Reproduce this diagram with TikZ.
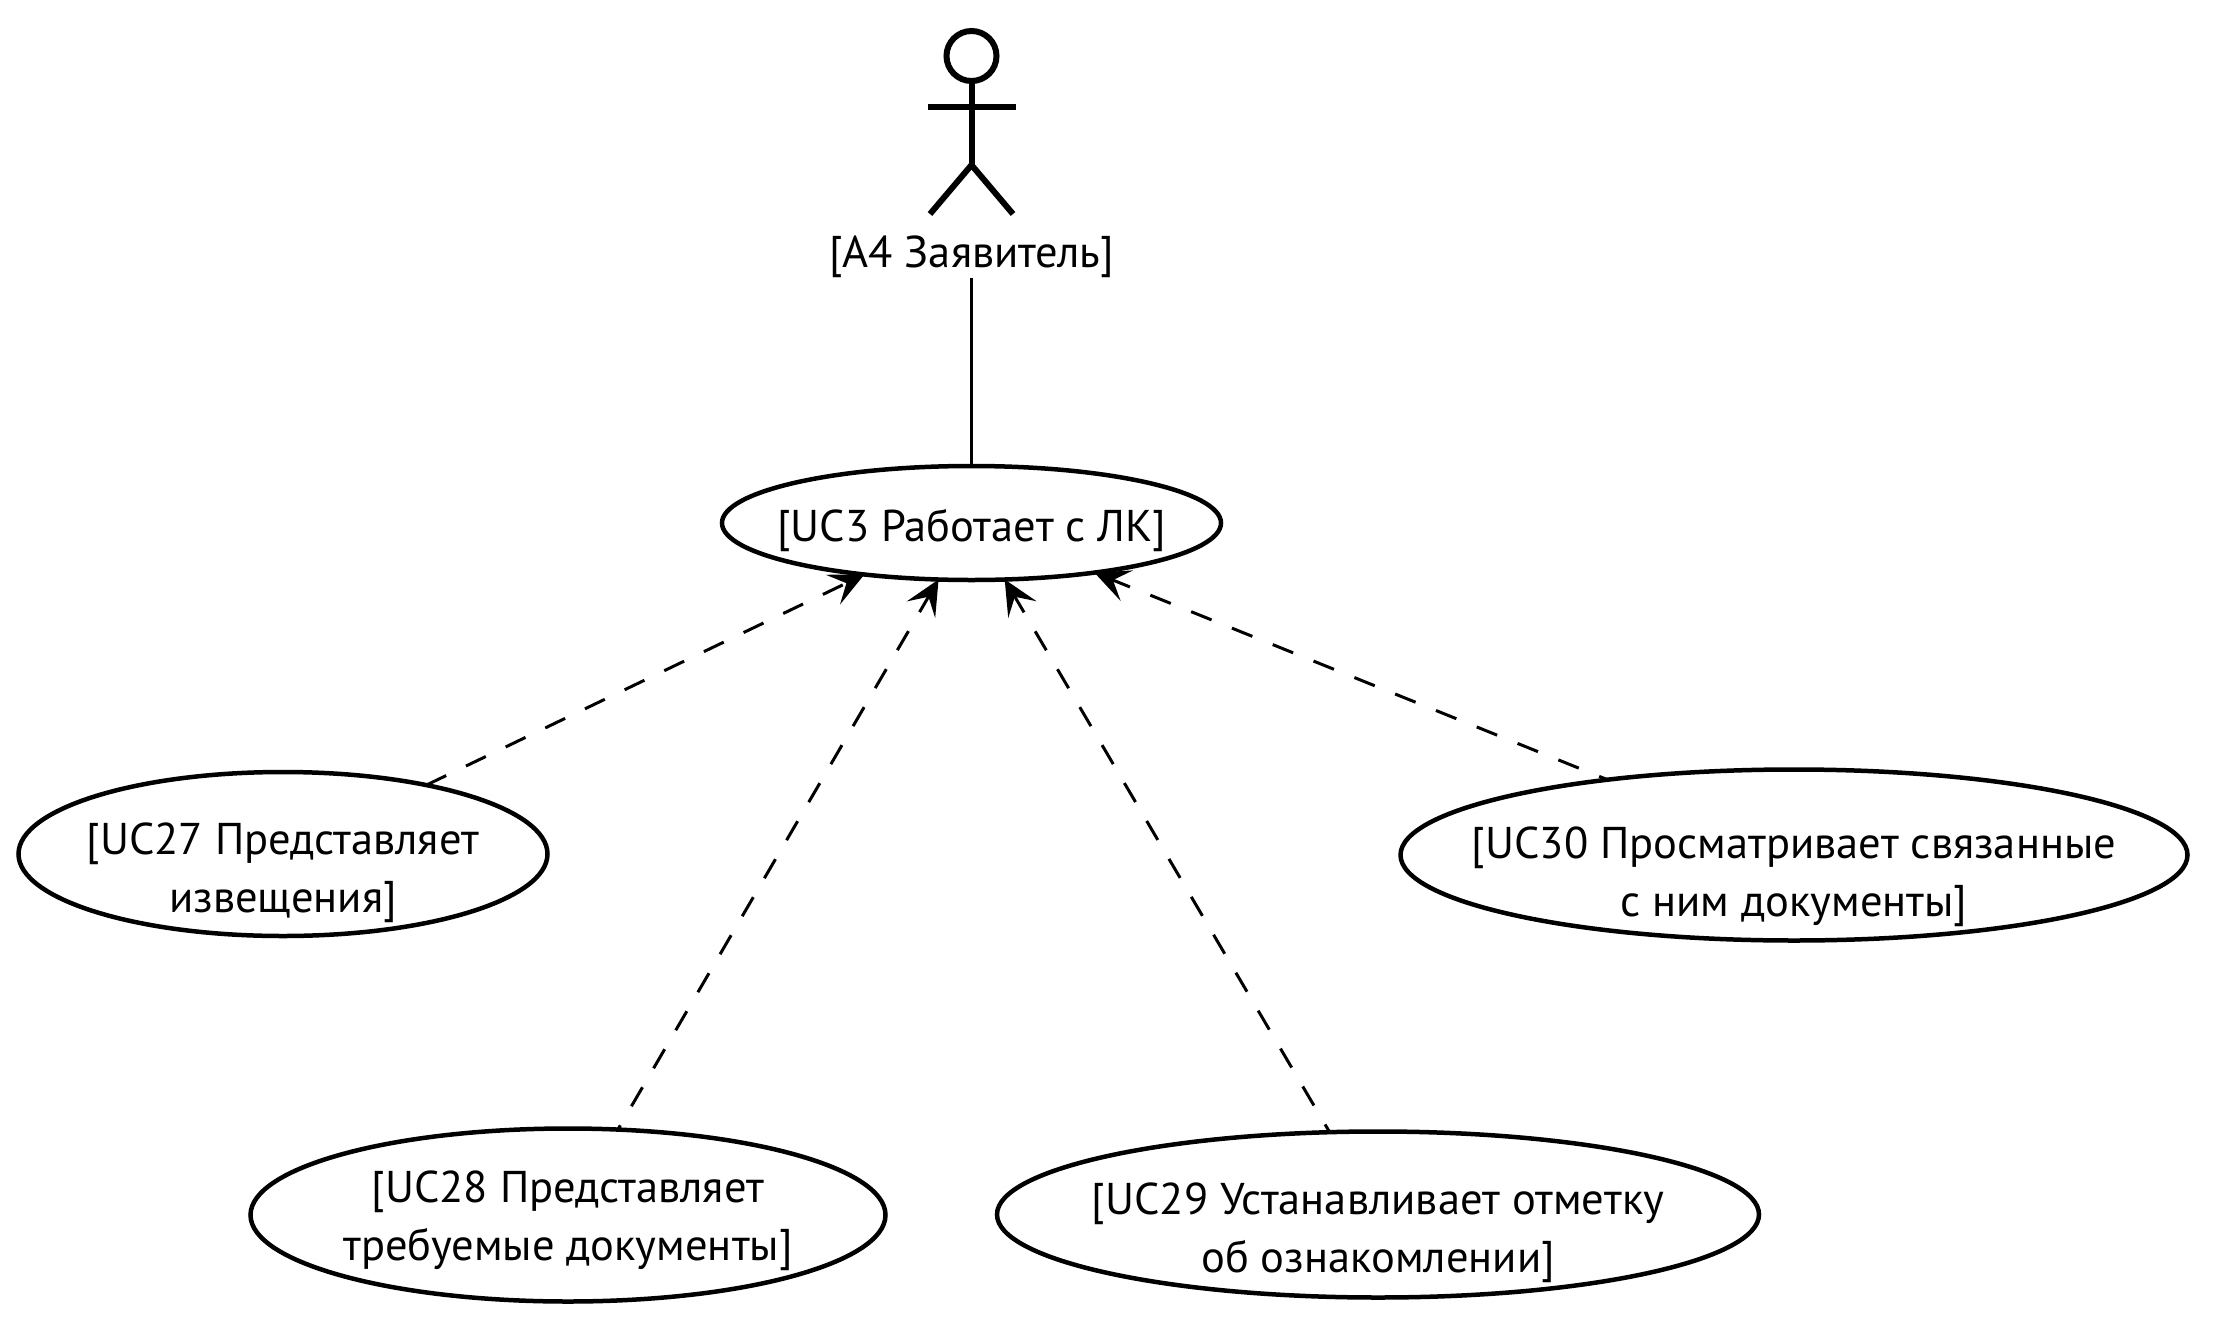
\documentclass[tikz,border=0pt]{standalone}
\usepackage{fontspec}
\setmainfont{PT Sans}
\usetikzlibrary{arrows.meta,shapes.geometric}
\newcommand{\lowertext}[1]{\rule{0pt}{#1}}
\tikzset{
  usecase/.style={ellipse,draw=black,line width=4.5pt,inner xsep=-70pt,inner ysep=-20pt,outer sep=0pt,align=center,font=\fontsize{44.5}{58}\selectfont},
  actorline/.style={draw=black,line width=6pt},
  assoc/.style={draw=black,line width=3pt},
  depend/.style={draw=black,line width=3pt,dash pattern=on 22pt off 22pt,dash phase=#1,-{Stealth[length=35pt,width=33pt,inset=15pt,line width=0pt]}},
  labeltext/.style={inner sep=0pt,outer sep=0pt,font=\fontsize{44.5}{58}\selectfont}
}
\begin{document}
\begin{tikzpicture}[x=1pt,y=-1pt]
\useasboundingbox (0,0) rectangle (2220,1333);
% actor
\node[circle,actorline,minimum size=50pt,inner sep=0pt,outer sep=0pt] (head) at (971.5,56) {};
\coordinate (hip) at (971.5,165);
\coordinate (armL) at (928,106.5);
\coordinate (armR) at (1016,106.5);
\coordinate (legL) at (930,214);
\coordinate (legR) at (1013,214);
\draw[actorline] (head) -- (hip);
\draw[actorline] (armL) -- (armR);
\draw[actorline] (legL) -- (hip) -- (legR);
\node[labeltext,minimum height=40pt] (a4) at (971.5,257) {[A4 Заявитель]};
% use cases
\node[usecase,minimum width=499pt,minimum height=114pt] (uc3) at (971.5,523) {\lowertext{47pt}[UC3 Работает с ЛК]};
\node[usecase,minimum width=529pt,minimum height=164pt] (uc27) at (283,854) {\lowertext{69pt}[UC27 Представляет\\извещения]};
\node[usecase,minimum width=635pt,minimum height=173pt] (uc28) at (568,1215) {\lowertext{43pt}[UC28 Представляет\\требуемые документы]};
\node[usecase,minimum width=762pt,minimum height=166pt] (uc29) at (1378,1214.5) {\lowertext{69pt}[UC29 Устанавливает отметку\\об ознакомлении]};
\node[usecase,minimum width=787pt,minimum height=171pt] (uc30) at (1794,855) {\lowertext{75pt}[UC30 Просматривает связанные\\с ним документы]};
% connectors
\draw[assoc] (a4.south) -- (uc3);
\draw[depend=0pt] (uc27) -- (uc3);
\draw[depend=17pt] (uc28) -- (uc3);
\draw[depend=13pt] (uc29) -- (uc3);
\draw[depend=13pt] (uc30) -- (uc3);
\end{tikzpicture}
\end{document}
